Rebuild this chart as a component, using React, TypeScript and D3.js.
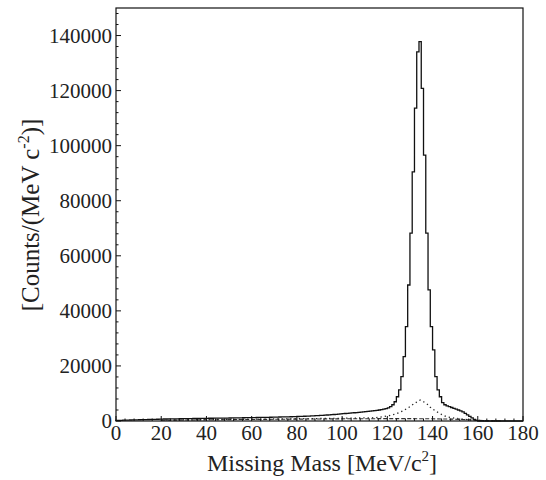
import React from 'react';
import * as d3 from 'd3';

// Histogram of total counts, 1 MeV bins starting at 0 MeV
const BIN_WIDTH = 1;
const totalCounts = [
  200, 230, 260, 290, 320, 340, 370, 390, 410, 440,
  460, 480, 500, 520, 540, 560, 590, 610, 640, 660,
  700, 720, 730, 750, 760, 780, 790, 800, 820, 830,
  850, 860, 870, 890, 900, 910, 930, 940, 950, 960,
  980, 990, 1000, 1010, 1020, 1030, 1040, 1050, 1060, 1080,
  1090, 1100, 1120, 1130, 1150, 1160, 1180, 1200, 1210, 1230,
  1250, 1260, 1280, 1290, 1300, 1320, 1330, 1350, 1370, 1390,
  1410, 1430, 1450, 1470, 1490, 1510, 1530, 1550, 1580, 1600,
  1630, 1660, 1690, 1720, 1760, 1800, 1840, 1880, 1920, 1970,
  2020, 2070, 2120, 2180, 2240, 2300, 2360, 2420, 2490, 2560,
  2650, 2720, 2790, 2860, 2930, 3000, 3070, 3150, 3230, 3300,
  3380, 3470, 3560, 3660, 3770, 3880, 4000, 4140, 4300, 4500,
  4800, 5200, 5900, 7000, 8800, 11300, 16100, 23400, 34300, 49400,
  68200, 90500, 113600, 134100, 137800, 120800, 96600, 68200, 47600, 34300,
  25800, 16100, 11300, 8800, 6700, 5900, 5500, 5200, 4900, 4600,
  4300, 4000, 3650, 3300, 2800, 2200, 1650, 1100, 550, 200,
];

// Dotted component (peaking under the signal)
const dottedMass = [20, 25, 30, 35, 40, 45, 50, 55, 60, 65, 70, 75, 80, 85, 90, 95, 100, 105, 110, 115, 118, 121, 124, 127, 130, 132, 134.5, 136, 138, 139, 141, 143, 146, 150, 154, 158, 162, 166, 170];
const dottedCounts = [300, 350, 400, 450, 500, 540, 580, 620, 660, 700, 740, 780, 820, 860, 900, 950, 1000, 1060, 1120, 1200, 1550, 2000, 2600, 3700, 5200, 6400, 7600, 7000, 5900, 5000, 3800, 2800, 1600, 1000, 600, 300, 150, 80, 30];

// Dashed component (flat background)
const dashedMass = [20, 30, 40, 50, 60, 70, 80, 90, 100, 110, 120, 130, 140, 150, 155, 160, 165, 170];
const dashedCounts = [250, 350, 430, 500, 560, 620, 680, 740, 790, 830, 860, 860, 800, 650, 500, 250, 100, 30];

const xTicks = [0, 20, 40, 60, 80, 100, 120, 140, 160, 180];
const yTicks = [0, 20000, 40000, 60000, 80000, 100000, 120000, 140000];

const FONT = '"Liberation Serif", "Times New Roman", serif';

export default function App() {
  const W = 546, H = 480;
  const x = d3.scaleLinear().domain([0, 180]).range([116, 523]);
  const y = d3.scaleLinear().domain([0, 150000]).range([421, 8]);

  const pts: [number, number][] = [[0, 0]];
  totalCounts.forEach((c, i) => {
    pts.push([i * BIN_WIDTH, c]);
    pts.push([(i + 1) * BIN_WIDTH, c]);
  });
  pts.push([totalCounts.length * BIN_WIDTH, 0]);
  pts.push([180, 0]);
  const line = d3.line<[number, number]>().x(d => x(d[0])).y(d => y(d[1]));
  const histPath = line(pts) || '';
  const dottedPath = line(dottedMass.map((m, i) => [m, dottedCounts[i]] as [number, number])) || '';
  const dashedPath = line(dashedMass.map((m, i) => [m, dashedCounts[i]] as [number, number])) || '';

  const yMinor = d3.range(0, 150001, 4000).filter(v => v % 20000 !== 0);
  const xMinor = d3.range(0, 181, 4).filter(v => v % 20 !== 0);

  const [x0, x1] = x.range();
  const [y0, y1] = y.range();

  return (
    <svg width={W} height={H} style={{ position: 'absolute', left: 0, top: 0, background: '#fff' }} fontFamily={FONT}>
      <rect x={0} y={0} width={W} height={H} fill="#fff" />
      <path d={dashedPath} fill="none" stroke="#333" strokeWidth={1.1} strokeDasharray="4,2" />
      <path d={dottedPath} fill="none" stroke="#222" strokeWidth={1.3} strokeDasharray="1.3,3" />
      <path d={histPath} fill="none" stroke="#111" strokeWidth={1.3} />
      <rect x={x0} y={y1} width={x1 - x0} height={y0 - y1} fill="none" stroke="#111" strokeWidth={1.2} />
      {yTicks.map(t => (
        <g key={'y' + t}>
          <line x1={x0} x2={x0 + 5} y1={y(t)} y2={y(t)} stroke="#111" />
          <text x={x0 - 4} y={y(t)} dy="0.35em" textAnchor="end" fontSize={21} fill="#222">{t}</text>
        </g>
      ))}
      {yMinor.map(t => (
        <line key={'ym' + t} x1={x0} x2={x0 + 2.5} y1={y(t)} y2={y(t)} stroke="#111" />
      ))}
      {xTicks.map(t => (
        <g key={'x' + t}>
          <line x1={x(t)} x2={x(t)} y1={y0} y2={y0 - 5} stroke="#111" />
          <text x={x(t)} y={y0 + 19} textAnchor="middle" fontSize={21} fill="#222">{t}</text>
        </g>
      ))}
      {xMinor.map(t => (
        <line key={'xm' + t} x1={x(t)} x2={x(t)} y1={y0} y2={y0 - 2.5} stroke="#111" />
      ))}
      <text x={322} y={471} textAnchor="middle" fontSize={24} fill="#222">
        Missing Mass [MeV/c<tspan dy={-10} fontSize={15}>2</tspan><tspan dy={10}>]</tspan>
      </text>
      <text transform="translate(39,215) rotate(-90)" textAnchor="middle" fontSize={25} fill="#222">
        [Counts/(MeV c<tspan dy={-10} fontSize={16}>-2</tspan><tspan dy={10}>)]</tspan>
      </text>
    </svg>
  );
}
